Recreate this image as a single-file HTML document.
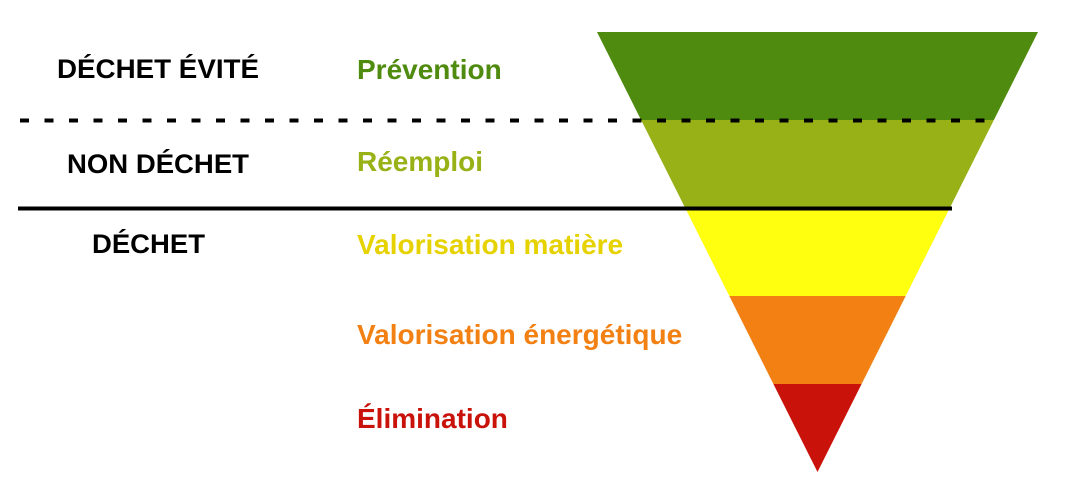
<!DOCTYPE html>
<html><head><meta charset="utf-8"><style>
html,body{margin:0;padding:0;background:#fff;}
svg{display:block;font-family:"Liberation Sans",Arial,sans-serif;font-weight:bold;}
</style></head><body>
<svg id="chart" width="1069" height="483" viewBox="0 0 1069 483" xmlns="http://www.w3.org/2000/svg">
<text x="158" y="78" font-size="27" textLength="202" lengthAdjust="spacingAndGlyphs" text-anchor="middle" fill="#000">DÉCHET ÉVITÉ</text>
<text x="158" y="173" font-size="27" textLength="182" lengthAdjust="spacingAndGlyphs" text-anchor="middle" fill="#000">NON DÉCHET</text>
<text x="148.5" y="253" font-size="27" textLength="113" lengthAdjust="spacingAndGlyphs" text-anchor="middle" fill="#000">DÉCHET</text>
<g id="bands"></g>
<g id="labels"></g>
<line x1="20" y1="120.5" x2="995" y2="120.5" stroke="#000" stroke-width="4" stroke-dasharray="9 15.5"/>
<line x1="18" y1="208.5" x2="952" y2="208.5" stroke="#000" stroke-width="4"/>
</svg>
<script>
const levels = ["Prévention","Réemploi","Valorisation matière","Valorisation énergétique","Élimination"];
const fills = ["#4e8b0e","#98b116","#ffff10","#f28012","#c8120a"];
const textColors = ["#4e8b0e","#98b116","#e6d200","#f28012","#c8120a"];
const labelYs = [79,171,254,344,428];
const pyrTop=32, apexY=472, pyrLeft=597, pyrRight=1038, cx=(pyrLeft+pyrRight)/2;
const nLevels=levels.length, bandH=(apexY-pyrTop)/nLevels;
const halfW = y => (pyrRight-pyrLeft)/2*(apexY-y)/(apexY-pyrTop);
const svgNS="http://www.w3.org/2000/svg";
const bandsG=document.getElementById('bands'), labelsG=document.getElementById('labels');
levels.forEach((name,i)=>{
  const y0=pyrTop+i*bandH, y1=pyrTop+(i+1)*bandH;
  const p=document.createElementNS(svgNS,'polygon');
  p.setAttribute('points',`${cx-halfW(y0)},${y0} ${cx+halfW(y0)},${y0} ${cx+halfW(y1)},${y1} ${cx-halfW(y1)},${y1}`);
  p.setAttribute('fill',fills[i]);
  
  
  bandsG.appendChild(p);
  const t=document.createElementNS(svgNS,'text');
  t.setAttribute('x',357);t.setAttribute('y',labelYs[i]);
  t.setAttribute('font-size','28');t.setAttribute('fill',textColors[i]);
  t.textContent=name;
  
  
  labelsG.appendChild(t);
});
</script>
</body></html>
